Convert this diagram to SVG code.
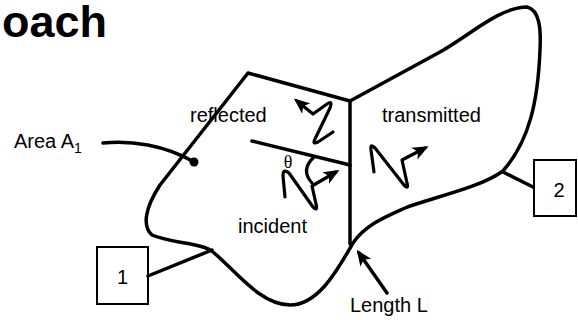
<svg xmlns="http://www.w3.org/2000/svg" width="578" height="320" viewBox="0 0 578 320">
  <style>
    .txt { font-family: "Liberation Sans", Arial, sans-serif; font-size: 20px; fill: #000; }
    .title { font-family: "Liberation Sans", Arial, sans-serif; font-size: 45px; font-weight: bold; fill: #000; }
    .outline { fill: none; stroke: #000; stroke-width: 3.5; stroke-linejoin: round; stroke-linecap: round; }
    .wave { fill: none; stroke: #000; stroke-width: 3.2; stroke-linejoin: round; stroke-linecap: round; }
    .box { fill: #fff; stroke: #000; stroke-width: 2; }
  </style>
  <defs>
    <marker id="ah" viewBox="0 0 12 10" refX="9" refY="5" markerWidth="16" markerHeight="14" orient="auto" markerUnits="userSpaceOnUse">
      <path d="M0,0 L12,5 L0,10 L3,5 Z" fill="#000"/>
    </marker>
  </defs>

  <rect width="578" height="320" fill="#fff"/>

  <text class="title" x="107" y="37" text-anchor="end">oach</text>

  <!-- region outline: two areas sharing the interface line -->
  <g id="region">
    <path class="outline" d="M 248,73 L 350,101 L 440,52 C 470,35 500,7 527,7 C 540,10 541,30 540,50 C 538,100 530,140 503,171 C 480,188 430,198 405,208 C 385,217 365,225 353,243 C 340,265 320,305 290,305 C 260,305 235,270 213,252 C 203,243 170,243 152,235 C 142,226 145,208 160,185 Z"/>
    <line class="outline" x1="350" y1="101" x2="350" y2="244"/>
    <line class="outline" x1="252" y1="141" x2="350" y2="165"/>
    <path class="wave" d="M 314,157 Q 300,170 312,183"/>
    <text x="288" y="168" text-anchor="middle" font-family="Liberation Serif, 'Times New Roman', serif" font-size="18">θ</text>
  </g>

  <g id="labels">
    <text class="txt" x="190" y="122">reflected</text>
    <text class="txt" x="382" y="122">transmitted</text>
    <text class="txt" x="238" y="233">incident</text>
    <text class="txt" x="350" y="312">Length L</text>
    <text class="txt" x="14" y="148">Area A<tspan font-size="14" dy="5">1</tspan></text>
  </g>

  <g id="box1">
    <rect class="box" x="97" y="247" width="51" height="57"/>
    <text class="txt" x="122.5" y="284" text-anchor="middle">1</text>
  </g>

  <g id="box2">
    <rect class="box" x="534" y="160" width="42" height="56"/>
    <text class="txt" x="559" y="197" text-anchor="middle">2</text>
  </g>

  <!-- connectors -->
  <g id="connectors">
    <line class="outline" x1="148" y1="276" x2="212" y2="250"/>
    <line class="outline" x1="503" y1="172" x2="533" y2="187"/>
    <path class="outline" d="M 103,143 C 130,140 165,145 194,162"/>
    <circle cx="194" cy="162" r="4.5" fill="#000"/>
    <line class="outline" x1="387" y1="293" x2="359" y2="253" marker-end="url(#ah)"/>
    <!-- incident, reflected and transmitted waves -->
    <path class="wave" d="M 285,197 L 283,176 Q 283,168 289,173 L 313,207 Q 318,212 316,204 L 312,186 L 336,172" marker-end="url(#ah)"/>
    <path class="wave" d="M 333,132 L 318,142 Q 312,145 315,139 L 330,108 Q 333,100 327,104 L 313,114 L 297,101" marker-end="url(#ah)"/>
    <path class="wave" d="M 374,172 L 371,150 Q 370,143 375,148 L 404,185 Q 409,190 407,183 L 402,160 L 425,148" marker-end="url(#ah)"/>
  </g>
</svg>
